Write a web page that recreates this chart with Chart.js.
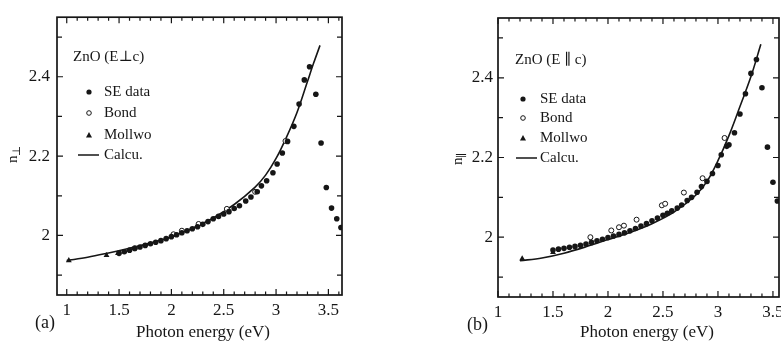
<!DOCTYPE html>
<html>
<head>
<meta charset="utf-8">
<script src="https://cdn.jsdelivr.net/npm/chart.js@4.4.1/dist/chart.umd.min.js"></script>
<style>
html, body { margin: 0; padding: 0; background: #fff; overflow: hidden; }
#wrap { position: relative; width: 781px; height: 343px; overflow: hidden; }
canvas { position: absolute; top: 0; }
#ca { left: 0; }
#cb { left: 390px; }
</style>
</head>
<body>
<div id="wrap">
	<canvas id="ca" width="390" height="343"></canvas>
	<canvas id="cb" width="430" height="343"></canvas>
</div>
<script>
// ---- panel (a): E perpendicular to c ----
var seA_x = [1.50, 1.55, 1.60, 1.65, 1.70, 1.75, 1.80, 1.85, 1.90, 1.95, 2.00, 2.05, 2.10, 2.15, 2.20, 2.25, 2.30, 2.35, 2.40, 2.45, 2.50, 2.55, 2.60, 2.65, 2.71, 2.76, 2.82, 2.86, 2.91, 2.97, 3.01, 3.06, 3.11, 3.17, 3.22, 3.27, 3.32, 3.38, 3.43, 3.48, 3.53, 3.58, 3.62];
var seA_y = [1.955, 1.959, 1.963, 1.967, 1.971, 1.975, 1.979, 1.983, 1.987, 1.992, 1.997, 2.002, 2.007, 2.012, 2.017, 2.022, 2.028, 2.035, 2.042, 2.048, 2.054, 2.060, 2.068, 2.075, 2.087, 2.097, 2.110, 2.125, 2.138, 2.158, 2.180, 2.208, 2.237, 2.275, 2.331, 2.392, 2.425, 2.356, 2.233, 2.121, 2.069, 2.042, 2.020];
var bondA_x = [1.65, 2.02, 2.10, 2.26, 2.53, 2.80, 3.09];
var bondA_y = [1.968, 2.003, 2.012, 2.029, 2.067, 2.110, 2.238];
var mollA_x = [1.02, 1.38, 1.49];
var mollA_y = [1.937, 1.950, 1.955];
var calcA_x = [1.00, 1.20, 1.40, 1.60, 1.80, 2.00, 2.20, 2.40, 2.60, 2.80, 2.90, 3.00, 3.10, 3.20, 3.30, 3.36, 3.42];
var calcA_y = [1.937, 1.945, 1.956, 1.968, 1.981, 1.997, 2.018, 2.044, 2.078, 2.122, 2.152, 2.194, 2.248, 2.310, 2.388, 2.435, 2.479];

// ---- panel (b): E parallel to c ----
var seB_x = [1.50, 1.55, 1.60, 1.65, 1.70, 1.75, 1.80, 1.85, 1.90, 1.95, 2.00, 2.05, 2.10, 2.15, 2.20, 2.25, 2.30, 2.35, 2.40, 2.45, 2.50, 2.54, 2.58, 2.63, 2.67, 2.72, 2.76, 2.81, 2.85, 2.90, 2.95, 3.00, 3.03, 3.08, 3.10, 3.15, 3.20, 3.25, 3.30, 3.35, 3.40, 3.45, 3.50, 3.54];
var seB_y = [1.968, 1.970, 1.972, 1.975, 1.977, 1.980, 1.983, 1.987, 1.991, 1.995, 1.999, 2.003, 2.007, 2.011, 2.016, 2.022, 2.028, 2.034, 2.041, 2.048, 2.055, 2.060, 2.066, 2.073, 2.081, 2.092, 2.100, 2.113, 2.127, 2.140, 2.160, 2.180, 2.207, 2.228, 2.232, 2.262, 2.309, 2.360, 2.411, 2.446, 2.375, 2.226, 2.138, 2.091];
var bondB_x = [1.84, 2.03, 2.10, 2.145, 2.26, 2.49, 2.52, 2.69, 2.86, 3.06];
var bondB_y = [2.000, 2.017, 2.025, 2.029, 2.044, 2.080, 2.084, 2.112, 2.148, 2.249];
var mollB_x = [1.22, 1.50];
var mollB_y = [1.946, 1.962];
var calcB_x = [1.20, 1.40, 1.60, 1.80, 2.00, 2.20, 2.40, 2.60, 2.80, 2.90, 3.00, 3.10, 3.20, 3.30, 3.39];
var calcB_y = [1.941, 1.948, 1.960, 1.976, 1.994, 2.012, 2.034, 2.063, 2.106, 2.140, 2.192, 2.255, 2.328, 2.403, 2.484];

// ---- shared axis labels ----
var xTicks = [1, 1.5, 2, 2.5, 3, 3.5];
var yTicks = [2, 2.2, 2.4];
var legendLabels = ['SE data', 'Bond', 'Mollwo', 'Calcu.'];

var FONT = "'Liberation Serif', 'DejaVu Serif', serif";
var INK = '#161616';

function pts(xs, ys) {
	return xs.map(function(x, i) { return { x: x, y: ys[i] }; });
}

// box frame + inward ticks on all four sides
var framePlugin = {
	id: 'frame',
	afterDraw: function(chart) {
		var ctx = chart.ctx, a = chart.chartArea;
		var xs = chart.scales.x, ys = chart.scales.y;
		ctx.save();
		ctx.strokeStyle = INK;
		ctx.lineWidth = 1.7;
		ctx.strokeRect(a.left, a.top, a.right - a.left, a.bottom - a.top);
		ctx.lineWidth = 1.2;
		ctx.beginPath();
		for (var k = Math.ceil(xs.min * 10); k <= Math.floor(xs.max * 10); k++) {
			var px = xs.getPixelForValue(k / 10);
			var len = k % 5 === 0 ? 6 : 3.5;
			ctx.moveTo(px, a.bottom); ctx.lineTo(px, a.bottom - len);
			ctx.moveTo(px, a.top); ctx.lineTo(px, a.top + len);
		}
		for (var j = Math.ceil(ys.min * 10); j <= Math.floor(ys.max * 10); j++) {
			var py = ys.getPixelForValue(j / 10);
			var ln = j % 2 === 0 ? 6 : 5;
			ctx.moveTo(a.left, py); ctx.lineTo(a.left + ln, py);
			ctx.moveTo(a.right, py); ctx.lineTo(a.right - ln, py);
		}
		ctx.stroke();
		ctx.restore();
	}
};

// texts drawn inside/around each panel
function notesPlugin(n) {
	return {
		id: 'notes',
		afterDraw: function(chart) {
			var ctx = chart.ctx;
			ctx.save();
			ctx.fillStyle = INK;
			ctx.strokeStyle = INK;
			ctx.textBaseline = 'middle';
			ctx.textAlign = 'left';

			ctx.font = '15px ' + FONT;
			ctx.fillText(n.title, n.titleX, n.titleY);

			// legend
			legendLabels.forEach(function(lbl, i) {
				var y = n.rowY[i];
				ctx.fillText(lbl, n.textX, y);
				ctx.beginPath();
				if (i === 0) {
					ctx.arc(n.markX, y, 2.6, 0, Math.PI * 2);
					ctx.fill();
				} else if (i === 1) {
					ctx.lineWidth = 1;
					ctx.arc(n.markX, y, 2.3, 0, Math.PI * 2);
					ctx.stroke();
				} else if (i === 2) {
					ctx.moveTo(n.markX, y - 3);
					ctx.lineTo(n.markX + 3, y + 2.5);
					ctx.lineTo(n.markX - 3, y + 2.5);
					ctx.closePath();
					ctx.fill();
				} else {
					ctx.lineWidth = 1.5;
					ctx.moveTo(n.lineX0, y);
					ctx.lineTo(n.lineX1, y);
					ctx.stroke();
				}
			});

			// x title and panel tag
			ctx.font = '17px ' + FONT;
			ctx.textAlign = 'center';
			ctx.fillText('Photon energy (eV)', n.xtX, n.xtY);
			ctx.font = '18px ' + FONT;
			ctx.textAlign = 'left';
			ctx.fillText(n.tag, n.tagX, n.tagY);

			// y title, rotated, with subscript
			ctx.translate(n.ytX, n.ytY);
			ctx.rotate(-Math.PI / 2);
			ctx.textAlign = 'left';
			ctx.font = '15px ' + FONT;
			ctx.fillText('n', -8, 0);
			ctx.font = '11px ' + FONT;
			ctx.fillText(n.sub, -1, 4);
			ctx.restore();
		}
	};
}

function makePanel(id, p) {
	return new Chart(document.getElementById(id), {
		type: 'scatter',
		data: {
			datasets: [
				{ label: 'SE data', data: pts(p.seX, p.seY), pointStyle: 'circle', pointRadius: 2.8, backgroundColor: INK, borderColor: INK, borderWidth: 0 },
				{ label: 'Bond', data: pts(p.bondX, p.bondY), pointStyle: 'circle', pointRadius: 2.5, backgroundColor: '#fff', borderColor: INK, borderWidth: 1 },
				{ label: 'Mollwo', data: pts(p.mollX, p.mollY), pointStyle: 'triangle', pointRadius: 3.4, backgroundColor: INK, borderColor: INK, borderWidth: 0 },
				{ label: 'Calcu.', data: pts(p.calcX, p.calcY), showLine: true, borderColor: INK, borderWidth: 1.6, pointRadius: 0, tension: 0.35 }
			]
		},
		options: {
			responsive: false,
			animation: false,
			layout: { padding: { top: p.top, right: p.right, left: 0, bottom: 0 } },
			plugins: { legend: { display: false }, tooltip: { enabled: false } },
			scales: {
				x: {
					type: 'linear', min: p.xMin, max: p.xMax,
					grid: { display: false, drawTicks: false },
					border: { display: false },
					afterBuildTicks: function(s) { s.ticks = xTicks.map(function(v) { return { value: v }; }); },
					afterFit: function(s) { s.height = p.xAxisH; },
					ticks: { color: INK, padding: 5, maxRotation: 0, autoSkip: false, font: { family: FONT, size: 17 }, callback: function(v) { return String(v); } }
				},
				y: {
					type: 'linear', min: 1.85, max: 2.55,
					grid: { display: false, drawTicks: false },
					border: { display: false },
					afterBuildTicks: function(s) { s.ticks = yTicks.map(function(v) { return { value: v }; }); },
					afterFit: function(s) { s.width = p.yAxisW; },
					ticks: { color: INK, padding: p.yPad, font: { family: FONT, size: 17 }, callback: function(v) { return String(v); } }
				}
			}
		},
		plugins: [framePlugin, notesPlugin(p.notes)]
	});
}

makePanel('ca', {
	seX: seA_x, seY: seA_y, bondX: bondA_x, bondY: bondA_y, mollX: mollA_x, mollY: mollA_y, calcX: calcA_x, calcY: calcA_y,
	xMin: 0.907, xMax: 3.63, top: 15, right: 48, xAxisH: 48, yAxisW: 57, yPad: 7,
	notes: {
		title: 'ZnO (E\u22A5c)', titleX: 73, titleY: 57,
		markX: 89, textX: 104, lineX0: 78, lineX1: 99, rowY: [92, 113, 135, 155],
		xtX: 203, xtY: 333, tag: '(a)', tagX: 35, tagY: 323,
		ytX: 13, ytY: 155, sub: '\u22A5'
	}
});

makePanel('cb', {
	seX: seB_x, seY: seB_y, bondX: bondB_x, bondY: bondB_y, mollX: mollB_x, mollY: mollB_y, calcX: calcB_x, calcY: calcB_y,
	xMin: 1.0, xMax: 3.555, top: 18, right: 41, xAxisH: 46, yAxisW: 108, yPad: 5,
	notes: {
		title: 'ZnO (E \u2225 c)', titleX: 125, titleY: 60,
		markX: 133, textX: 150, lineX0: 126, lineX1: 147, rowY: [99, 118, 138, 158],
		xtX: 257, xtY: 333, tag: '(b)', tagX: 77, tagY: 325,
		ytX: 68, ytY: 157, sub: '\u2225'
	}
});
</script>
</body>
</html>
